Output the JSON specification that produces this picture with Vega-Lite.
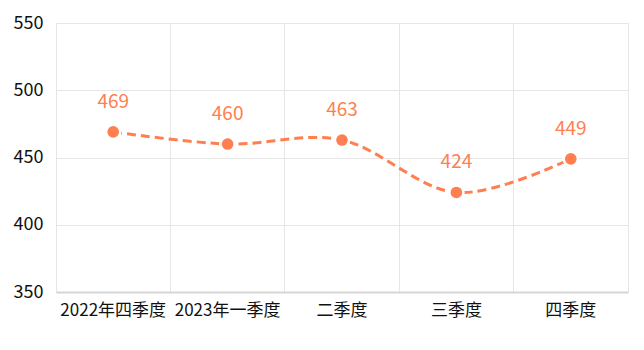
{
  "$schema": "https://vega.github.io/schema/vega-lite/v6.json",
  "width": 572,
  "height": 269,
  "autosize": {"type": "none"},
  "padding": {"left": 56, "top": 23, "right": 16, "bottom": 58},
  "background": "#ffffff",
  "config": {
    "font": "Noto Sans CJK SC",
    "view": {"stroke": "#e6e6e6", "strokeWidth": 1}
  },
  "data": {
    "values": [
      {"quarter": "2022年四季度", "value": 469},
      {"quarter": "2023年一季度", "value": 460},
      {"quarter": "二季度", "value": 463},
      {"quarter": "三季度", "value": 424},
      {"quarter": "四季度", "value": 449}
    ]
  },
  "encoding": {
    "x": {
      "field": "quarter",
      "type": "nominal",
      "sort": null,
      "bandPosition": 0.5,
      "scale": {"type": "band", "paddingInner": 0, "paddingOuter": 0},
      "axis": {
        "title": null,
        "labelAngle": 0,
        "bandPosition": 0,
        "labelFontSize": 17,
        "labelColor": "#111111",
        "labelPadding": 10,
        "ticks": false,
        "grid": true,
        "gridColor": "#e6e6e6",
        "domainColor": "#d6d6d6",
        "domainWidth": 2
      }
    },
    "y": {
      "field": "value",
      "type": "quantitative",
      "scale": {"domain": [350, 550], "nice": false, "zero": false},
      "axis": {
        "title": null,
        "values": [350, 400, 450, 500, 550],
        "labelFontSize": 18,
        "labelColor": "#111111",
        "labelPadding": 13,
        "ticks": false,
        "domain": false,
        "gridColor": "#e6e6e6"
      }
    }
  },
  "layer": [
    {
      "mark": {
        "type": "line",
        "interpolate": "cardinal",
        "color": "#ff7f50",
        "strokeWidth": 3,
        "strokeDash": [9, 5]
      }
    },
    {
      "mark": {
        "type": "circle",
        "fill": "#ff7f50",
        "fillOpacity": 1,
        "stroke": "#ffffff",
        "strokeWidth": 2.5,
        "strokeOpacity": 1,
        "size": 200,
        "opacity": 1
      }
    },
    {
      "mark": {
        "type": "text",
        "color": "#ff7f50",
        "fontSize": 19,
        "baseline": "bottom",
        "dy": -20
      },
      "encoding": {"text": {"field": "value", "type": "quantitative"}}
    }
  ]
}
